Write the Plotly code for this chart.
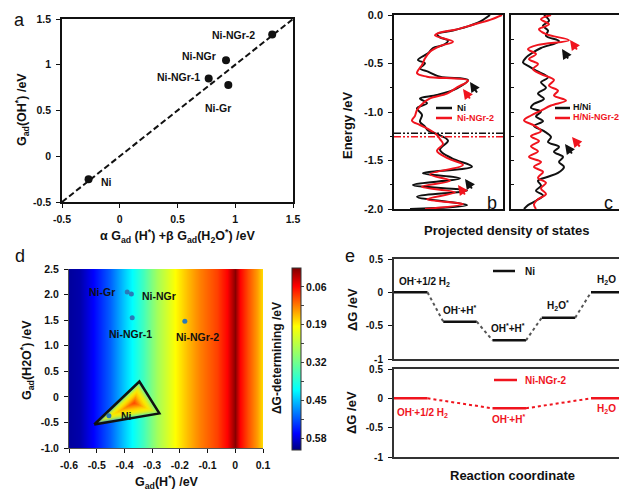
import plotly.graph_objects as go

W, H = 619, 492
def px(x): return x / W
def py(y): return (H - y) / H

FONT = "Liberation Sans, Arial, sans-serif"
RED = "#f0141e"
BLK = "#111111"

# ---------------- panel a data ----------------
a_names = ["Ni", "Ni-NGr-1", "Ni-NGr", "Ni-Gr", "Ni-NGr-2"]
a_x = [-0.27, 0.77, 0.92, 0.94, 1.32]
a_y = [-0.25, 0.85, 1.05, 0.78, 1.33]
a_parity = [-0.5, 1.5]
a_ticks = [-0.5, 0, 0.5, 1, 1.5]
a_ticktext = ["-0.5", "0", "0.5", "1", "1.5"]

# ---------------- panel b data (PDOS, Energy vs DOS) ----------------
b_E_ni = [0, -0.069, -0.12, -0.16, -0.196, -0.23, -0.265, -0.31, -0.34, -0.395, -0.464, -0.498,
          -0.55, -0.584, -0.636, -0.67, -0.756, -0.825, -0.86, -0.91, -0.962, -1.03, -1.10, -1.15,
          -1.19, -1.227, -1.295, -1.39, -1.478, -1.564, -1.632, -1.684, -1.753, -1.81, -1.873,
          -1.96, -2.0]
b_D_ni = [96, 86, 73, 59, 43, 46, 54, 49, 39, 34, 24, 31, 26, 34, 46, 74, 63, 43, 26, 33, 23, 28,
          26, 31, 34, 43, 54, 46, 58, 78, 29, 66, 19, 73, 23, 73, 16]
b_E_ngr = [0, -0.05, -0.10, -0.148, -0.18, -0.21, -0.275, -0.32, -0.378, -0.447, -0.515, -0.6,
           -0.636, -0.677, -0.746, -0.81, -0.86, -0.91, -0.98, -1.04, -1.09, -1.134, -1.186,
           -1.237, -1.28, -1.33, -1.40, -1.478, -1.546, -1.643, -1.708, -1.77, -1.828, -1.90,
           -1.948, -2.0]
b_D_ngr = [108, 96, 79, 63, 46, 41, 59, 46, 36, 31, 28, 23, 33, 74, 63, 53, 36, 29, 23, 21, 18,
           26, 36, 43, 46, 49, 43, 54, 69, 36, 56, 28, 61, 33, 69, 31]
b_dband = [-1.22, -1.255]
b_yticks = [0, -0.5, -1.0, -1.5, -2.0]
b_yticktext = ["0.0", "-0.5", "-1.0", "-1.5", "-2.0"]

# ---------------- panel c data ----------------
c_E_hni = [0, -0.06, -0.11, -0.16, -0.215, -0.27, -0.34, -0.386, -0.44, -0.49, -0.53, -0.574,
           -0.643, -0.694, -0.75, -0.81, -0.865, -0.916, -0.957, -0.995, -1.046, -1.094, -1.145,
           -1.197, -1.258, -1.31, -1.36, -1.41, -1.463, -1.515, -1.566, -1.627, -1.668, -1.709,
           -1.76, -1.812, -1.86, -1.915, -1.96, -2.0]
c_D_hni = [33, 38, 32, 37, 35, 48, 30, 22, 15, 12, 18, 25, 37, 30, 35, 27, 33, 23, 20, 30, 25, 32,
           23, 33, 40, 37, 48, 43, 52, 48, 53, 47, 37, 27, 30, 25, 32, 25, 17, 13]
c_E_hngr = [0, -0.044, -0.096, -0.147, -0.198, -0.26, -0.308, -0.352, -0.403, -0.455, -0.506,
            -0.557, -0.609, -0.67, -0.728, -0.78, -0.83, -0.882, -0.933, -0.985, -1.036, -1.087,
            -1.138, -1.197, -1.25, -1.30, -1.354, -1.405, -1.463, -1.515, -1.566, -1.617, -1.679,
            -1.73, -1.788, -1.846, -1.90, -1.952, -2.0]
c_D_hngr = [40, 30, 38, 28, 35, 58, 27, 17, 25, 18, 27, 22, 30, 43, 38, 47, 43, 55, 40, 30, 20, 13,
            23, 30, 20, 28, 20, 27, 18, 30, 23, 32, 27, 35, 30, 35, 27, 23, 25]

# ---------------- panel d data ----------------
d_gh = [-0.6, -0.56, -0.513, -0.452, -0.405, -0.373, -0.333, -0.282, -0.246, -0.217, -0.174,
        -0.127, -0.066, -0.03, -0.001, 0.017, 0.046, 0.079, 0.1]
d_dg = [0.607, 0.60, 0.564, 0.507, 0.45, 0.414, 0.36, 0.276, 0.232, 0.195, 0.16, 0.126, 0.092,
        0.058, 0.0, 0.058, 0.10, 0.142, 0.18]
d_gh2o = [-1.0, 2.5]
d_names = ["Ni-Gr", "Ni-NGr", "Ni-NGr-1", "Ni-NGr-2", "Ni"]
d_x = [-0.39, -0.375, -0.372, -0.182, -0.456]
d_y = [2.05, 2.01, 1.547, 1.48, -0.37]
d_tri_x = [-0.509, -0.346, -0.274]
d_tri_y = [-0.54, 0.30, -0.324]
d_hot = (-0.365, -0.12)          # location of the lowest-ΔG spot inside the triangle
d_xticks = [-0.6, -0.5, -0.4, -0.3, -0.2, -0.1, 0, 0.1]
d_xticktext = ["-0.6", "-0.5", "-0.4", "-0.3", "-0.2", "-0.1", "0", "0.1"]
d_yticks = [2.5, 2.0, 1.5, 1.0, 0.5, 0, -0.5, -1.0]
d_yticktext = ["2.5", "2.0", "1.5", "1.0", "0.5", "0", "-0.5", "-1.0"]
cb_ticks = [0.06, 0.19, 0.32, 0.45, 0.58]

# ---------------- panel e data ----------------
e_ni_steps = ["OH<sup>-</sup>+1/2 H<sub>2</sub>", "OH<sup>-</sup>+H<sup>*</sup>",
              "OH<sup>*</sup>+H<sup>*</sup>", "H<sub>2</sub>O<sup>*</sup>", "H<sub>2</sub>O"]
e_ni = [0, -0.44, -0.72, -0.38, 0]
e_ngr_pos = [0, 2, 4]
e_ngr_steps = ["OH<sup>-</sup>+1/2 H<sub>2</sub>", "OH<sup>-</sup>+H<sup>*</sup>", "H<sub>2</sub>O"]
e_ngr = [0, -0.17, 0]
e_yticks = [0.5, 0, -0.5, -1]
e_yticktext = ["0.5", "0", "-0.5", "-1"]

LEVEL_W = 0.68

fig = go.Figure()

# ---- panel a ----
fig.add_trace(go.Scatter(x=a_parity, y=a_parity, mode="lines",
                         line=dict(color=BLK, width=2, dash="6px,3px"), xaxis="x", yaxis="y"))
fig.add_trace(go.Scatter(x=a_x, y=a_y, mode="markers",
                         marker=dict(color=BLK, size=8), xaxis="x", yaxis="y"))

# ---- panel b ----
fig.add_trace(go.Scatter(x=b_D_ni, y=b_E_ni, mode="lines", line=dict(color=BLK, width=2, shape="spline"),
                         xaxis="x2", yaxis="y2"))
fig.add_trace(go.Scatter(x=b_D_ngr, y=b_E_ngr, mode="lines", line=dict(color=RED, width=2, shape="spline"),
                         xaxis="x2", yaxis="y2"))
for e, col in zip(b_dband, [BLK, RED]):
    fig.add_trace(go.Scatter(x=[0, 109], y=[e, e], mode="lines",
                             line=dict(color=col, width=1.5, dash="7px,2px,2px,2px,2px,2px"),
                             xaxis="x2", yaxis="y2"))

# ---- panel c ----
fig.add_trace(go.Scatter(x=c_D_hni, y=c_E_hni, mode="lines", line=dict(color=BLK, width=2, shape="spline"),
                         xaxis="x3", yaxis="y3"))
fig.add_trace(go.Scatter(x=c_D_hngr, y=c_E_hngr, mode="lines", line=dict(color=RED, width=2, shape="spline"),
                         xaxis="x3", yaxis="y3"))

# ---- panel d ----
jet = [[0, "#00007f"], [0.09, "#0000ff"], [0.33, "#00ffff"], [0.5, "#7fff7f"],
       [0.68, "#ffff00"], [0.9, "#ff0000"], [1, "#7f0000"]]
zrow = [-v for v in d_dg]
cb_vals, cb_text = [], []
for i, t in enumerate(cb_ticks):
    cb_vals.append(-t); cb_text.append(f"{t:.2f}")
    if i < len(cb_ticks) - 1:
        cb_vals.append(-(t + cb_ticks[i + 1]) / 2); cb_text.append("")
fig.add_trace(go.Heatmap(x=d_gh, y=d_gh2o, z=[zrow, zrow], zsmooth="best", colorscale=jet,
                         zmin=-0.62, zmax=0.005, xaxis="x4", yaxis="y4",
                         colorbar=dict(x=px(292), xanchor="left", xpad=0, y=py(268), yanchor="top",
                                       len=182 / H, lenmode="fraction", ypad=0, thickness=9,
                                       outlinewidth=1, outlinecolor="#333",
                                       tickvals=cb_vals, ticktext=cb_text, ticks="outside", ticklen=3,
                                       tickfont=dict(family=FONT, size=10.5, color=BLK, weight="bold"))))

# nested (concentric) triangles give the local ΔG minimum inside the Ni region
tri_stops = [(1.0, (150, 235, 110, 0.35)), (0.8, (215, 240, 40, 0.7)), (0.6, (250, 235, 0, 0.95)),
             (0.4, (255, 190, 0, 1.0)), (0.2, (255, 120, 0, 1.0)), (0.0, (255, 60, 0, 1.0))]
def tri_col(s):
    for (s0, c0), (s1, c1) in zip(tri_stops[:-1], tri_stops[1:]):
        if s1 <= s <= s0:
            f = (s0 - s) / (s0 - s1)
            c = [c0[j] + f * (c1[j] - c0[j]) for j in range(4)]
            return f"rgba({int(c[0])},{int(c[1])},{int(c[2])},{c[3]:.2f})"
    return "rgba(255,60,0,1)"
n_layers = 14
for k in range(n_layers):
    s = 1.0 - k / n_layers
    xs = [d_hot[0] + s * (x - d_hot[0]) for x in d_tri_x]
    ys = [d_hot[1] + s * (y - d_hot[1]) for y in d_tri_y]
    fig.add_trace(go.Scatter(x=xs + [xs[0]], y=ys + [ys[0]], mode="lines", fill="toself",
                             fillcolor=tri_col(s), line=dict(width=0), xaxis="x4", yaxis="y4"))
fig.add_trace(go.Scatter(x=d_tri_x + [d_tri_x[0]], y=d_tri_y + [d_tri_y[0]], mode="lines",
                         line=dict(color=BLK, width=2.5), xaxis="x4", yaxis="y4"))
fig.add_trace(go.Scatter(x=d_x, y=d_y, mode="markers", marker=dict(color="#2a7ab8", size=5),
                         xaxis="x4", yaxis="y4"))

# ---- panel e ----
for i, v in enumerate(e_ni):
    fig.add_trace(go.Scatter(x=[i, i + LEVEL_W], y=[v, v], mode="lines", line=dict(color=BLK, width=2.5),
                             xaxis="x5", yaxis="y5"))
    if i < len(e_ni) - 1:
        fig.add_trace(go.Scatter(x=[i + LEVEL_W, i + 1], y=[v, e_ni[i + 1]], mode="lines",
                                 line=dict(color="#555", width=2, dash="dot"), xaxis="x5", yaxis="y5"))
for k, (p, v) in enumerate(zip(e_ngr_pos, e_ngr)):
    fig.add_trace(go.Scatter(x=[p, p + LEVEL_W], y=[v, v], mode="lines", line=dict(color=RED, width=2.5),
                             xaxis="x6", yaxis="y6"))
    if k < len(e_ngr) - 1:
        fig.add_trace(go.Scatter(x=[p + LEVEL_W, e_ngr_pos[k + 1]], y=[v, e_ngr[k + 1]], mode="lines",
                                 line=dict(color=RED, width=2, dash="dot"), xaxis="x6", yaxis="y6"))

# ---------------- axes ----------------
def tf(size=10.5):
    return dict(family=FONT, size=size, color=BLK, weight="bold")

def axis(**kw):
    base = dict(showline=True, linecolor=BLK, linewidth=1.5, mirror=True, ticks="outside", ticklen=4,
                tickwidth=1, tickcolor=BLK, tickfont=tf(), showgrid=False, zeroline=False,
                ticklabelstandoff=3, automargin=False)
    base.update(kw)
    return base

lay = dict(template="none", width=W, height=H, margin=dict(l=0, r=0, t=0, b=0, pad=0),
           paper_bgcolor="white", plot_bgcolor="white", showlegend=False)
lay["xaxis"] = axis(domain=[px(62), px(293)], range=[-0.5, 1.5], tickvals=a_ticks, ticktext=a_ticktext,
                    anchor="y")
lay["yaxis"] = axis(domain=[py(202), py(19)], range=[-0.5, 1.5], tickvals=a_ticks, ticktext=a_ticktext,
                    anchor="x")
lay["xaxis2"] = axis(domain=[px(394), px(503)], range=[0, 109], ticks="", showticklabels=False, anchor="y2")
lay["yaxis2"] = axis(domain=[py(209), py(15)], range=[-2, 0], tickvals=b_yticks, ticktext=b_yticktext,
                     tickfont=tf(11), anchor="x2",
                     minor=dict(dtick=0.25, ticks="outside", ticklen=2, tickcolor=BLK))
lay["xaxis3"] = axis(domain=[px(511), 1.0], range=[0, 108], ticks="", showticklabels=False, anchor="y3")
lay["yaxis3"] = axis(domain=[py(209), py(15)], range=[-2, 0], dtick=0.25, ticks="inside", ticklen=3,
                     showticklabels=False, anchor="x3")
lay["xaxis4"] = axis(domain=[px(69), px(263)], range=[-0.6, 0.1], tickvals=d_xticks, ticktext=d_xticktext,
                     mirror=False, linecolor="#555", linewidth=1, anchor="y4")
lay["yaxis4"] = axis(domain=[py(448), py(269)], range=[-1.0, 2.5], tickvals=d_yticks, ticktext=d_yticktext,
                     mirror=False, linecolor="#555", linewidth=1, anchor="x4")
E_RANGE = [0, (W - 394) / 49.25]
lay["xaxis5"] = axis(domain=[px(394), 1.0], range=E_RANGE, ticks="", showticklabels=False,
                     linewidth=2, linecolor="#333", anchor="y5")
lay["yaxis5"] = axis(domain=[py(359), py(259)], range=[-1, 0.5], tickvals=e_yticks, ticktext=e_yticktext,
                     tickfont=tf(10), linewidth=2, linecolor="#333", anchor="x5")
lay["xaxis6"] = axis(domain=[px(394), 1.0], range=E_RANGE, ticks="", showticklabels=False,
                     linewidth=2, linecolor="#333", anchor="y6")
lay["yaxis6"] = axis(domain=[py(457), py(369)], range=[-1, 0.5], tickvals=e_yticks, ticktext=e_yticktext,
                     tickfont=tf(10), linewidth=2, linecolor="#333", anchor="x6")
fig.update_layout(**lay)

ann = []
def T(x, y, text, size=12, angle=0, color=BLK, bold=True, xanchor="center", yanchor="middle"):
    ann.append(dict(x=px(x), y=py(y), xref="paper", yref="paper", text=text, showarrow=False,
                    textangle=angle, xanchor=xanchor, yanchor=yanchor,
                    font=dict(family=FONT, size=size, color=color, weight="bold" if bold else "normal")))

# panel letters
T(19, 20, "a", 18, bold=False)
T(492, 203, "b", 18, bold=False)
T(608, 203, "c", 18, bold=False)
T(20, 256, "d", 18, bold=False)
T(350, 256, "e", 18, bold=False)

# axis titles
T(22, 110, "G<sub>ad</sub>(OH<sup>*</sup>) /eV", 12.5, angle=-90)
T(177, 236, "α G<sub>ad</sub> (H<sup>*</sup>) +β G<sub>ad</sub>(H<sub>2</sub>O<sup>*</sup>) /eV", 12.5)
T(348, 125, "Energy /eV", 13, angle=-90)
T(506, 230, "Projected density of states", 13)
T(27, 360, "G<sub>ad</sub>(H2O<sup>*</sup>) /eV", 12.5, angle=-90)
T(167, 482, "G<sub>ad</sub>(H<sup>*</sup>) /eV", 12.5)
T(277, 358, "ΔG-determining /eV", 12, angle=-90)
T(352, 310, "ΔG /eV", 13, angle=-90)
T(352, 413, "ΔG /eV", 13, angle=-90)
T(512, 475, "Reaction coordinate", 13)

# legends (b, c, e)
shapes = []
def legline(x0, x1, y, col, w=2.5):
    shapes.append(dict(type="line", xref="paper", yref="paper", x0=px(x0), x1=px(x1), y0=py(y), y1=py(y),
                       line=dict(color=col, width=w)))
legline(436, 452, 108, BLK); T(455, 108, "Ni", 9, xanchor="left")
legline(436, 452, 118, RED); T(455, 118, "Ni-NGr-2", 9, color=RED, xanchor="left")
legline(555, 570, 108, BLK); T(571, 107, "H/Ni", 9, xanchor="left")
legline(555, 570, 118, RED); T(571, 117, "H/Ni-NGr-2", 9, color=RED, xanchor="left")
legline(493, 515, 271, BLK); T(523, 271, "Ni", 10, xanchor="left")
legline(494, 517, 380, RED); T(523, 380, "Ni-NGr-2", 10, color=RED, xanchor="left")

# arrows in b, c
def arrow(hx, hy, tx, ty, col):
    ann.append(dict(x=px(hx), y=py(hy), xref="paper", yref="paper", ax=tx - hx, ay=ty - hy,
                    text="", showarrow=True, arrowhead=2, arrowsize=1, arrowwidth=2, arrowcolor=col,
                    standoff=0))
arrow(470, 82, 478, 94, BLK); arrow(463, 89, 471, 100, RED)
arrow(465, 179, 473, 190, BLK); arrow(458, 185, 466, 196, RED)
arrow(570, 40, 578, 51, RED); arrow(562, 49, 569, 60, BLK)
arrow(572, 137, 581, 148, RED); arrow(565, 144, 573, 155, BLK)

# point labels panel a
a_off = {"Ni": (10, -3, "left"), "Ni-NGr-1": (-7, 1, "right"), "Ni-NGr": (-8, 4, "right"),
         "Ni-Gr": (-10, -23, "center"), "Ni-NGr-2": (-15, 0, "right")}
for n, x, y in zip(a_names, a_x, a_y):
    dx, dy, xa = a_off[n]
    ann.append(dict(x=x, y=y, xref="x", yref="y", text=n, showarrow=False, xshift=dx, yshift=dy,
                    xanchor=xa, font=tf(10.5)))
# point labels panel d
d_off = {"Ni-Gr": (-10, 0, "right"), "Ni-NGr": (9, -2, "left"), "Ni-NGr-1": (-2, -16, "center"),
         "Ni-NGr-2": (13, -16, "center"), "Ni": (10, 0, "left")}
for n, x, y in zip(d_names, d_x, d_y):
    dx, dy, xa = d_off[n]
    ann.append(dict(x=x, y=y, xref="x4", yref="y4", text=n, showarrow=False, xshift=dx, yshift=dy,
                    xanchor=xa, font=tf(10.5)))
# step labels panel e
for i, (s, v) in enumerate(zip(e_ni_steps, e_ni)):
    if i == 0:
        ann.append(dict(x=i, y=v, xref="x5", yref="y5", text=s, showarrow=False, xanchor="left",
                        xshift=3, yshift=11, font=tf(10)))
    else:
        ann.append(dict(x=i + LEVEL_W / 2, y=v, xref="x5", yref="y5", text=s, showarrow=False,
                        xshift=-1, yshift=12, font=tf(10)))
for k, (s, p, v) in enumerate(zip(e_ngr_steps, e_ngr_pos, e_ngr)):
    if k == 0:
        ann.append(dict(x=p, y=v, xref="x6", yref="y6", text=s, showarrow=False, xanchor="left",
                        xshift=1, yshift=-14, font=dict(family=FONT, size=10, color=RED, weight="bold")))
    else:
        ann.append(dict(x=p + LEVEL_W / 2, y=v, xref="x6", yref="y6", text=s, showarrow=False,
                        xshift=-1, yshift=-11, font=dict(family=FONT, size=10, color=RED, weight="bold")))

fig.update_layout(annotations=ann, shapes=shapes)
fig.write_html("out.html", config={"displayModeBar": False},
               post_script="document.body.style.margin='0px';document.body.style.padding='0px';"
                           "document.documentElement.style.overflow='hidden';")
